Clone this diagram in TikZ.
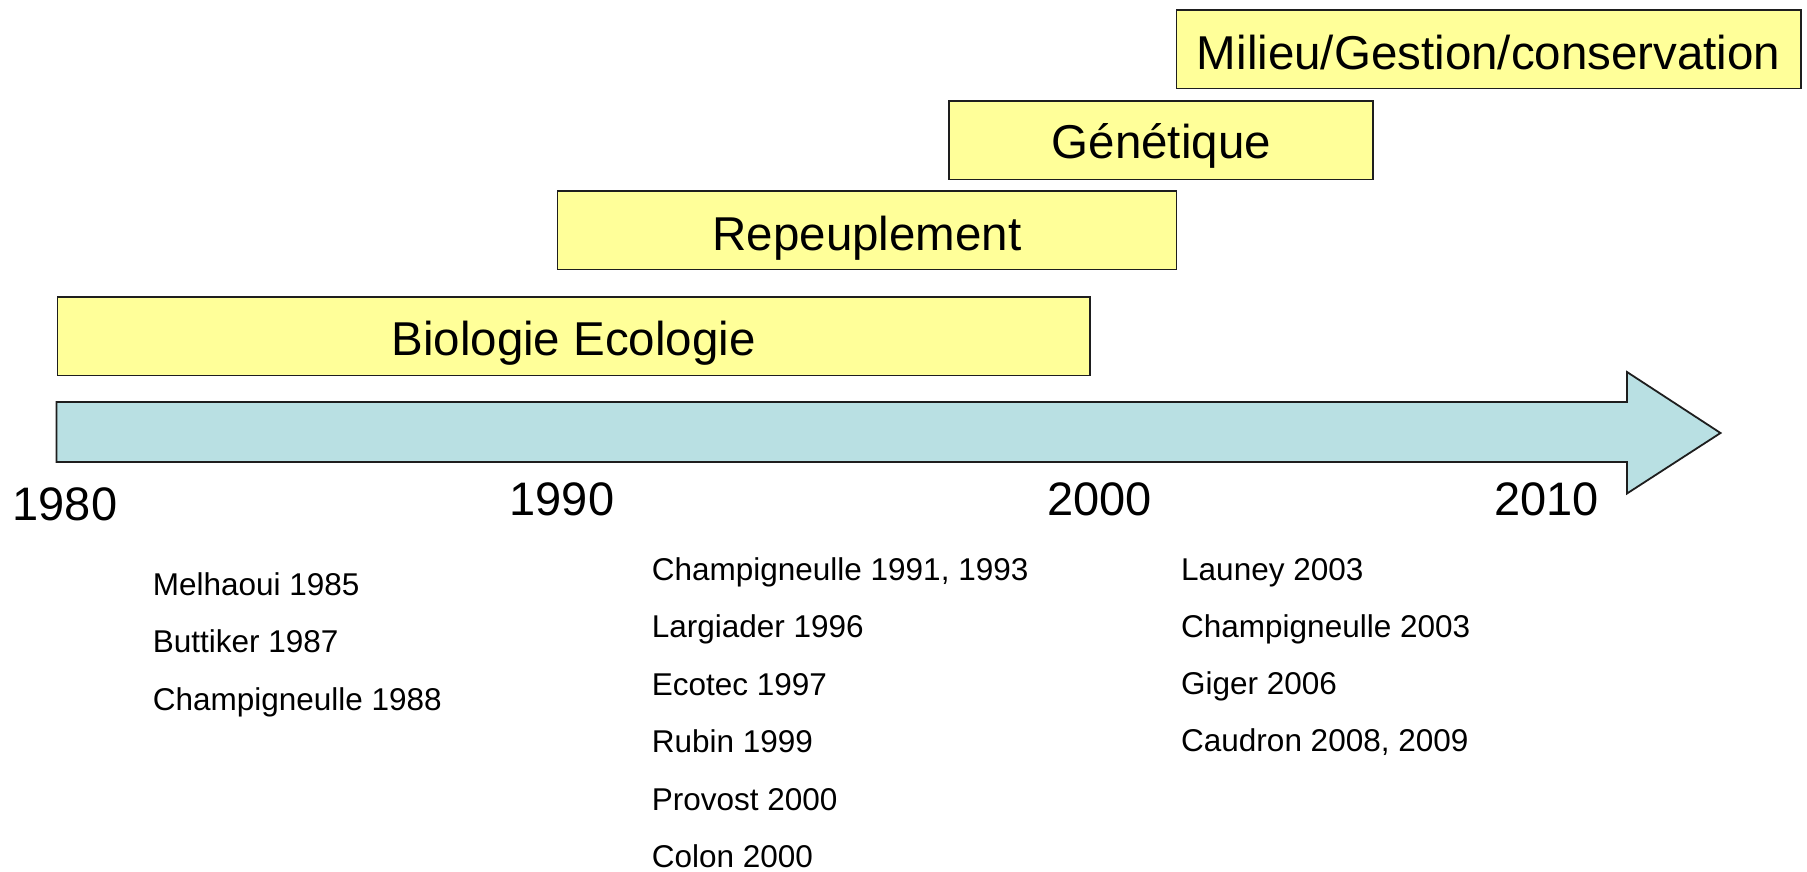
\documentclass[tikz,border=0pt]{standalone}
\usepackage{fontspec}
\setmainfont{Liberation Sans}
\definecolor{boxyellow}{RGB}{255,255,153}
\definecolor{arrowblue}{RGB}{185,224,227}
\definecolor{edgegray}{RGB}{30,30,30}
\tikzset{
  themebox/.style={draw=edgegray, line width=1.8pt, fill=boxyellow, inner sep=0pt,
    anchor=north west, minimum height=78.5pt, text height=34pt, text depth=0pt,
    font=\fontsize{47.5}{57}\selectfont},
  yearlabel/.style={anchor=base, inner sep=0pt, font=\fontsize{47}{56}\selectfont},
  reflabel/.style={anchor=base west, inner sep=0pt, font=\fontsize{31.5}{38}\selectfont}
}
\begin{document}
\begin{tikzpicture}[x=1pt,y=-1pt]
\useasboundingbox (0,0) rectangle (1807,872);
% timeline arrow
\draw[draw=edgegray, line width=1.8pt, fill=arrowblue, line join=miter]
  (56.5,402) -- (1627,402) -- (1627,372) -- (1720.5,433) -- (1627,493.5)
  -- (1627,462) -- (56.5,462) -- cycle;
% theme boxes
\node[themebox, minimum width=1032.5pt] (bio) at (56.5,296) {};
\node[anchor=center, inner sep=0pt, text height=34pt, text depth=0pt, font=\fontsize{47.5}{57}\selectfont] (biot) at ([yshift=-2pt]bio.center) {Biologie Ecologie};
\node[themebox, minimum width=619pt] (rep) at (556.6,190) {};
\node[anchor=center, inner sep=0pt, text height=34pt, text depth=0pt, font=\fontsize{47.5}{57}\selectfont] (rept) at ([yshift=-3pt]rep.center) {Repeuplement};
\node[themebox, minimum width=424pt] (gen) at (948.4,100) {};
\node[anchor=center, inner sep=0pt, text height=34pt, text depth=0pt, font=\fontsize{47.5}{57}\selectfont] (gent) at ([yshift=-1.5pt]gen.center) {Génétique};
\node[themebox, minimum width=624.5pt] (mil) at (1175.5,9.2) {};
\node[anchor=center, inner sep=0pt, text height=34pt, text depth=0pt, font=\fontsize{47.5}{57}\selectfont] (milt) at ([yshift=-3pt]mil.center) {Milieu/Gestion/conservation};
% years
\node[yearlabel] (y1980) at (65,520) {1980};
\node[yearlabel] (y1990) at (562,515) {1990};
\node[yearlabel] (y2000) at (1099.7,515) {2000};
\node[yearlabel] (y2010) at (1546.5,515) {2010};
% references 1980s
\node[reflabel] (r1) at (152.7,595) {Melhaoui 1985};
\node[reflabel] (r2) at (152.7,652.6) {Buttiker 1987};
\node[reflabel] (r3) at (152.7,710.1) {Champigneulle 1988};
% references 1990s
\node[reflabel] (m1) at (651.7,580.2) {Champigneulle 1991, 1993};
\node[reflabel] (m2) at (651.7,637.7) {Largiader 1996};
\node[reflabel] (m3) at (651.7,695.2) {Ecotec 1997};
\node[reflabel] (m4) at (651.7,752.7) {Rubin 1999};
\node[reflabel] (m5) at (651.7,810.2) {Provost 2000};
\node[reflabel] (m6) at (651.7,867.7) {Colon 2000};
% references 2000s
\node[reflabel] (n1) at (1181,580) {Launey 2003};
\node[reflabel] (n2) at (1181,637.2) {Champigneulle 2003};
\node[reflabel] (n3) at (1181,694.4) {Giger 2006};
\node[reflabel] (n4) at (1181,751.6) {Caudron 2008, 2009};
\end{tikzpicture}
\end{document}
